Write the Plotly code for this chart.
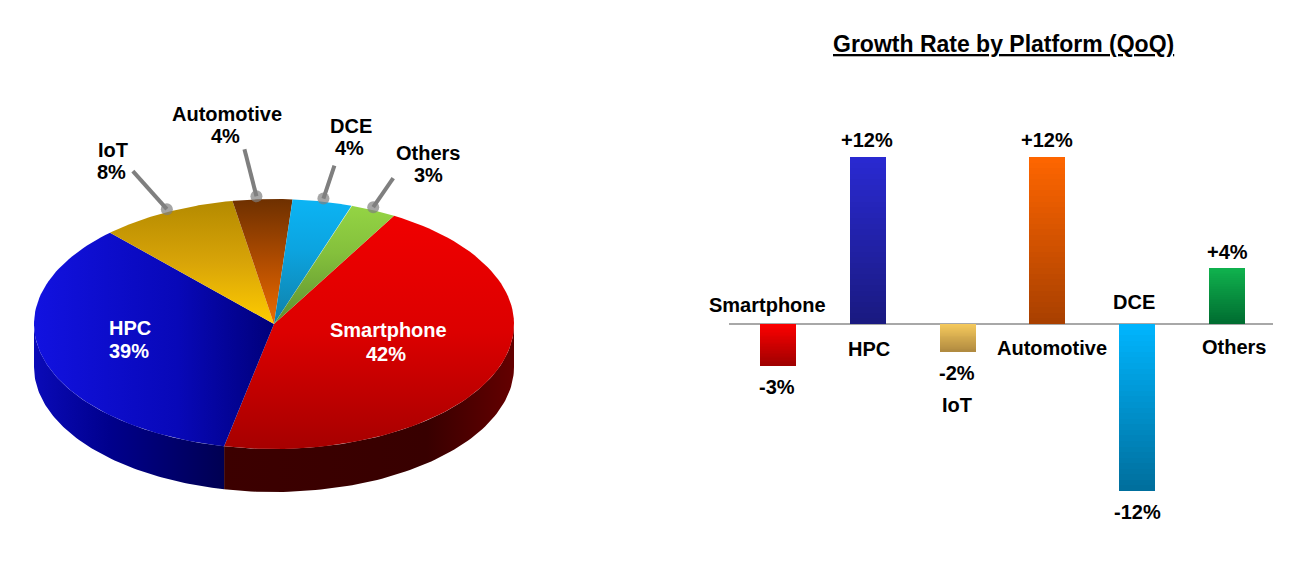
import numpy as np
import plotly.graph_objects as go

# ---- data ----
platforms = ["Smartphone", "HPC", "IoT", "Automotive", "DCE", "Others"]
share_labels = ["42%", "39%", "8%", "4%", "4%", "3%"]
# the reference's pie is not strictly proportional: these are the sweeps as drawn (% of the circle)
drawn_sweep = [45.0, 34.7, 9.2, 4.0, 4.0, 3.1]
growth = [-3, 12, -2, 12, -12, 4]
growth_labels = ["-3%", "+12%", "-2%", "+12%", "-12%", "+4%"]

W, H = 1291, 573
FONT = "Liberation Sans"
CX, CY, RX, RY, DEPTH = 274, 324, 240, 125, 43   # pie geometry, px
START = 60.0                                     # where the first slice starts, degrees

def px(x): return x / W
def py(y): return 1 - y / H

# pie axis is in px relative to the pie centre, y up
def ell(deg, r=1.0, drop=0.0):
    t = np.radians(deg)
    return r * RX * np.cos(t), r * RY * np.sin(t) - drop

top_grad = {
    "Smartphone": ("vertical", [(0, "#A60000"), (0.5, "#DC0000"), (1, "#F00000")]),
    "HPC": ("horizontal", [(0, "#1212E0"), (0.6, "#0808B8"), (1, "#00007A")]),
    "IoT": ("vertical", [(0, "#FFCC00"), (0.5, "#D8A408"), (1, "#B48A00")]),
    "Automotive": ("vertical", [(0, "#EC6C00"), (0.5, "#B04C00"), (1, "#6E3000")]),
    "DCE": ("vertical", [(0, "#1080A8"), (0.6, "#0CA4E0"), (1, "#0CB4F4")]),
    "Others": ("vertical", [(0, "#5E9030"), (0.6, "#84C03C"), (1, "#94D444")]),
}
side_grad = {
    "Smartphone": [(0, "#3C0000"), (0.7, "#380000"), (1, "#640000")],
    "HPC": [(0, "#0A0AB8"), (0.4, "#00008C"), (1, "#000052")],
}

# boundaries, clockwise from START
bounds = START - np.concatenate([[0], np.cumsum(drawn_sweep)]) * 3.6
fig = go.Figure()

# side wall first (visible between 180 and 360 degrees)
for i, name in enumerate(platforms):
    if name == "Smartphone":
        ts = np.linspace(360, bounds[i + 1] % 360, 80)
    elif name == "HPC":
        ts = np.linspace(bounds[i] % 360, 180, 80)
    else:
        continue
    xt, yt = ell(ts)
    xb, yb = ell(ts[::-1], drop=DEPTH)
    fig.add_trace(go.Scatter(
        x=np.r_[xt, xb], y=np.r_[yt, yb], mode="lines", fill="toself",
        line=dict(width=0), hoverinfo="skip", showlegend=False,
        fillgradient=dict(type="horizontal", colorscale=side_grad[name]),
        xaxis="x", yaxis="y"))

# top surface
for i, name in enumerate(platforms):
    ts = np.linspace(bounds[i], bounds[i + 1], 80)
    xs, ys = ell(ts)
    kind, scale = top_grad[name]
    fig.add_trace(go.Scatter(
        x=np.r_[0, xs, 0], y=np.r_[0, ys, 0], mode="lines", fill="toself",
        line=dict(width=0), name=name, showlegend=False, hoverinfo="name",
        fillgradient=dict(type=kind, colorscale=scale),
        xaxis="x", yaxis="y"))

# leader lines with round ends, anchored at the slice mid angles
leader_nudge = {"IoT": (0, 3), "Automotive": (-6, 3), "DCE": (1, 3), "Others": (0, 3)}
leader_reach = {"IoT": (-34, 38), "Automotive": (-12, 47), "DCE": (11, 33), "Others": (20, 29)}
for i, name in enumerate(platforms):
    if name not in leader_nudge:
        continue
    mx, my = ell((bounds[i] + bounds[i + 1]) / 2)
    nx, ny = leader_nudge[name]
    mx, my = mx + nx, my + ny
    rx, ry = leader_reach[name]
    fig.add_trace(go.Scatter(
        x=[mx + rx, mx], y=[my + ry, my], mode="lines+markers",
        line=dict(color="#7F7F7F", width=4),
        marker=dict(color="#7F7F7F", size=[0, 12], line=dict(width=0)),
        hoverinfo="skip", showlegend=False, xaxis="x", yaxis="y"))

# ---- bars: a solid true-value bar, then stacked thin steps for the vertical gradient ----
bar_top = ["#FF0000", "#2A2AD2", "#F8CC5E", "#FF6600", "#00B6FF", "#10B24E"]
bar_bot = ["#A00000", "#1A1A80", "#B08A40", "#A84000", "#006E9C", "#006B30"]

def hex2rgb(h): return np.array([int(h[j:j + 2], 16) for j in (1, 3, 5)], float)
def mix(a, b, f):
    c = hex2rgb(a) * (1 - f) + hex2rgb(b) * f
    return "rgb(%d,%d,%d)" % tuple(c)

fig.add_trace(go.Bar(
    x=platforms, y=growth, width=0.4,
    marker=dict(color=[mix(a, b, 0.5) for a, b in zip(bar_top, bar_bot)], line=dict(width=0)),
    showlegend=False, hoverinfo="x+y", xaxis="x2", yaxis="y2"))
N = 30
g = np.array(growth, float)
for k in range(N):
    f = np.where(g > 0, 1 - (k + 0.5) / N, (k + 0.5) / N)
    fig.add_trace(go.Bar(
        x=platforms, y=g / N, base=g * k / N, width=0.4,
        marker=dict(color=[mix(a, b, ff) for a, b, ff in zip(bar_top, bar_bot, f)], line=dict(width=0)),
        showlegend=False, hoverinfo="skip", xaxis="x2", yaxis="y2"))

# ---- text ----
ann = []
def label(txt, x, y, color="black", size=20):
    ann.append(dict(text="<b>%s</b>" % txt, x=px(x), y=py(y), xref="paper", yref="paper",
                    showarrow=False, xanchor="center", yanchor="middle", align="center",
                    font=dict(family=FONT, size=size, color=color)))

pie_pos = {"Smartphone": ((388, 330), (386, 354), "white"), "HPC": ((130, 328), (129, 351), "white"),
           "IoT": ((113, 150), (112, 172), "black"), "Automotive": ((227, 114), (226, 136), "black"),
           "DCE": ((351, 126), (350, 148), "black"), "Others": ((428, 153), (428, 175), "black")}
for name, s in zip(platforms, share_labels):
    p1, p2, c = pie_pos[name]
    label(name, *p1, c)
    label(s, *p2, c)

cat_pos = {"Smartphone": (768, 305), "HPC": (869, 349), "IoT": (957, 405),
           "Automotive": (1052, 348), "DCE": (1134, 302), "Others": (1234, 347)}
val_pos = {"Smartphone": (777, 387), "HPC": (867, 140), "IoT": (957, 373),
           "Automotive": (1047, 140), "DCE": (1137, 512), "Others": (1227, 252)}
for name, s in zip(platforms, growth_labels):
    label(name, *cat_pos[name])
    label(s, *val_pos[name])
label("<u>Growth Rate by Platform (QoQ)</u>", 1003, 44, size=23)

PXU = 13.92  # px per percentage point
BX0, DX = 778, 89.8
fig.update_layout(
    width=W, height=H, margin=dict(l=0, r=0, t=0, b=0), autosize=False,
    paper_bgcolor="white", plot_bgcolor="rgba(0,0,0,0)", barmode="overlay", bargap=0,
    showlegend=False, annotations=ann,
    xaxis=dict(domain=[0, px(600)], range=[-CX, 600 - CX], visible=False, fixedrange=True),
    yaxis=dict(domain=[0, 1], range=[CY - H, CY], visible=False, fixedrange=True),
    xaxis2=dict(domain=[px(729), px(1273)], range=[(729 - BX0) / DX, (1273 - BX0) / DX],
                type="category", categoryorder="array", categoryarray=platforms,
                showticklabels=False, showgrid=False, zeroline=False, showline=False, ticks="",
                anchor="y2"),
    yaxis2=dict(domain=[0, 1], range=[(324 - H) / PXU, 324 / PXU], showticklabels=False,
                showgrid=False, zeroline=True, zerolinecolor="#A8A8A8", zerolinewidth=1.5, ticks="",
                anchor="x2"),
)
fig.write_html("out.html", config=dict(displayModeBar=False),
               post_script="document.body.style.margin='0';document.body.style.overflow='hidden';")
